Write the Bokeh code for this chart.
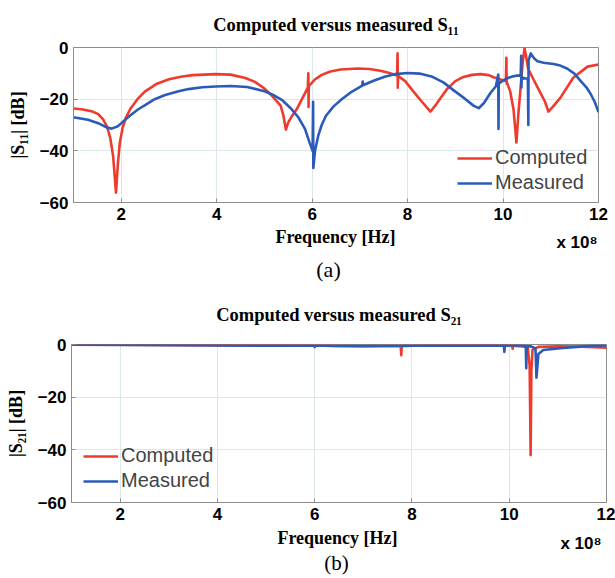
from bokeh.plotting import figure
from bokeh.models import FixedTicker, Label, Legend, LegendItem
from bokeh.layouts import column, row
from bokeh.embed import file_html
from bokeh.resources import INLINE

# ---------------- data (frequency in units of 1e8 Hz, magnitude in dB) ----------------
s11_comp_f = [1.0, 1.2, 1.4, 1.52, 1.62, 1.7, 1.77, 1.83, 1.89, 1.93, 1.97, 2.03, 2.1, 2.2,
              2.34, 2.5, 2.75, 3.0, 3.25, 3.5, 3.98, 4.29, 4.6, 4.8, 4.98, 5.15, 5.34, 5.4,
              5.45, 5.5, 5.58, 5.69, 5.8, 5.91, 5.92, 5.925, 5.93, 6.05, 6.2, 6.38, 6.6,
              6.95, 7.2, 7.43, 7.6, 7.78, 7.79, 7.795, 7.8, 7.95, 8.12, 8.3, 8.48, 8.6, 8.83,
              9.0, 9.17, 9.35, 9.53, 9.7, 9.8, 9.95, 10.06, 10.07, 10.075, 10.08, 10.15,
              10.22, 10.28, 10.32, 10.37, 10.41, 10.45, 10.48, 10.53, 10.62, 10.78, 10.88,
              10.95, 11.05, 11.2, 11.47, 11.77, 12.0]
s11_comp_db = [-23.6, -24.0, -24.8, -25.8, -27.8, -30.5, -35.0, -42.0, -56.2, -45.0, -37.0,
               -31.0, -27.0, -23.5, -20.0, -17.0, -14.0, -12.3, -11.3, -10.7, -10.3, -10.5,
               -11.8, -13.3, -15.6, -18.5, -22.5, -26.5, -31.8, -29.0, -26.5, -23.5, -19.5,
               -15.5, -10.0, -23.0, -15.0, -12.5, -10.6, -9.3, -8.5, -8.1, -8.3, -9.0, -9.8,
               -10.8, -2.2, -15.6, -11.0, -13.0, -17.0, -21.0, -24.8, -22.0, -16.0, -13.0,
               -11.4, -10.6, -10.3, -10.7, -11.5, -12.4, -13.0, -4.0, -14.0, -13.5, -17.0,
               -24.0, -36.8, -26.0, -15.0, -6.2, -0.3, -3.0, -8.5, -11.7, -17.5, -21.0,
               -24.8, -22.8, -19.5, -11.7, -7.4, -6.6]

s11_meas_f = [1.0, 1.3, 1.52, 1.7, 1.8, 1.93, 2.05, 2.18, 2.35, 2.5, 2.7, 2.92, 3.2, 3.41,
              3.7, 3.98, 4.29, 4.64, 4.98, 5.2, 5.38, 5.55, 5.71, 5.85, 5.95, 6.01, 6.02,
              6.025, 6.06, 6.13, 6.2, 6.29, 6.45, 6.62, 6.8, 7.05, 7.06, 7.065, 7.3, 7.52,
              7.75, 8.0, 8.25, 8.5, 8.75, 8.96, 9.2, 9.38, 9.49, 9.6, 9.74, 9.85, 9.9, 9.905,
              9.91, 10.0, 10.1, 10.2, 10.3, 10.37, 10.38, 10.385, 10.39, 10.45, 10.52, 10.53,
              10.535, 10.58, 10.65, 10.72, 10.85, 11.06, 11.2, 11.35, 11.5, 11.62, 11.75,
              11.83, 11.92, 12.0]
s11_meas_db = [-27.0, -28.0, -29.3, -31.0, -31.4, -30.5, -28.5, -26.4, -24.0, -22.3, -20.0,
               -18.4, -16.9, -16.1, -15.4, -15.1, -14.9, -15.3, -16.8, -18.5, -20.5, -23.5,
               -27.0, -31.5, -37.0, -40.0, -21.0, -46.6, -40.0, -34.0, -30.0, -26.4, -22.8,
               -20.0, -17.5, -14.8, -13.2, -14.6, -12.8, -11.3, -10.3, -9.9, -10.1, -11.2,
               -13.5, -16.5, -19.8, -22.5, -23.5, -21.5, -17.5, -15.0, -10.5, -31.5, -14.0,
               -12.8, -11.8, -11.2, -10.8, -11.0, -3.2, -15.5, -11.5, -12.0, -12.0, -30.0,
               -5.0, -2.3, -4.2, -5.3, -5.9, -6.4, -7.0, -8.2, -10.2, -12.8, -15.5, -17.8,
               -21.0, -25.0]

s21_comp_f = [1.0, 2.0, 3.0, 4.0, 5.0, 6.0, 6.5, 7.0, 7.5, 7.77, 7.78, 7.79, 8.0, 8.5, 9.0,
              9.5, 10.0, 10.06, 10.07, 10.08, 10.2, 10.38, 10.42, 10.44, 10.455, 10.48,
              10.6, 11.0, 11.5, 12.0]
s21_comp_db = [-0.1, -0.1, -0.2, -0.3, -0.3, -0.4, -0.6, -0.7, -0.6, -0.6, -4.1, -0.6, -0.5,
               -0.4, -0.3, -0.3, -0.4, -0.4, -1.6, -0.5, -0.6, -1.0, -8.0, -42.0, -10.0,
               -2.0, -0.9, -0.7, -0.8, -1.2]

s21_meas_f = [1.0, 2.0, 3.0, 4.0, 5.0, 5.99, 6.0, 6.01, 7.0, 8.0, 9.0, 9.89, 9.9, 9.91,
              10.2, 10.34, 10.35, 10.36, 10.45, 10.54, 10.56, 10.6, 10.7, 10.9, 11.1, 11.4,
              11.7, 12.0]
s21_meas_db = [-0.1, -0.2, -0.3, -0.4, -0.5, -0.5, -1.0, -0.5, -0.5, -0.5, -0.5, -0.4, -2.8,
               -0.4, -0.4, -0.5, -9.0, -0.6, -0.7, -1.5, -12.6, -3.6, -2.1, -1.7, -1.3, -0.9,
               -0.5, -0.4]

x_ticks = [2, 4, 6, 8, 10, 12]
y_ticks = [-60, -40, -20, 0]
series_names = ["Computed", "Measured"]
titles = ["Computed versus measured S\u2081\u2081", "Computed versus measured S\u2082\u2081"]
y_labels = ["|S\u2081\u2081| [dB]", "|S\u2082\u2081| [dB]"]
x_label = "Frequency [Hz]"
x_scale_label = "x 10\u2078"
captions = ["(a)", "(b)"]

RED = "#ee3b2e"
BLUE = "#2b5bb8"
GREY = "#8c8c8c"
SERIF = "Liberation Serif"
SANS = "Liberation Sans"
W = 615


def lab(p, text, x, y, size, font=SERIF, style="bold", align="left"):
    p.add_layout(Label(x=x, y=y, x_units="screen", y_units="screen", text=text,
                       text_font=font, text_font_size=size, text_font_style=style,
                       text_align=align, text_baseline="middle",
                       text_color="black"))


def text_fig(w, h):
    f = figure(width=w, height=h, x_range=(0, w), y_range=(0, h), output_backend="svg",
               toolbar_location=None, x_axis_type=None, y_axis_type=None,
               min_border=0, min_border_left=0, min_border_right=0,
               min_border_top=0, min_border_bottom=0)
    f.title.visible = False
    f.outline_line_color = None
    f.background_fill_color = "white"
    f.border_fill_color = "white"
    return f


def chart(fc, vc, fm, vm, title, ylab, height, bl, br, bt, bb, leg_loc, t_standoff):
    p = figure(width=W, height=height, x_range=(1, 12), y_range=(-60, 0),
               output_backend="svg", toolbar_location=None,
               min_border_left=bl, min_border_right=br, min_border_top=bt,
               min_border_bottom=bb)
    p.title.text = title
    p.title.align = "center"
    p.title.vertical_align = "middle"
    p.title.text_font = SERIF
    p.title.text_font_style = "bold"
    p.title.text_font_size = "18.5px"
    p.title.text_color = "black"
    p.title.standoff = t_standoff
    p.background_fill_color = "white"
    p.border_fill_color = "white"
    p.outline_line_color = GREY
    p.outline_line_width = 1
    p.xaxis.ticker = FixedTicker(ticks=x_ticks)
    p.yaxis.ticker = FixedTicker(ticks=y_ticks)
    p.grid.grid_line_color = "#dce7ec"
    p.grid.grid_line_width = 1
    for ax in (p.xaxis[0], p.yaxis[0]):
        ax.axis_line_color = GREY
        ax.major_tick_line_color = GREY
        ax.major_tick_in = 4
        ax.major_tick_out = 0
        ax.minor_tick_line_color = None
        ax.major_label_text_font = SANS
        ax.major_label_text_font_style = "bold"
        ax.major_label_text_font_size = "17px"
        ax.major_label_text_color = "black"
        ax.major_label_standoff = 5
    yax = p.yaxis[0]
    yax.axis_label = ylab
    yax.axis_label_text_font = SERIF
    yax.axis_label_text_font_style = "bold"
    yax.axis_label_text_font_size = "18px"
    yax.axis_label_text_color = "black"
    yax.axis_label_standoff = 9

    rc = p.line(fc, vc, line_color=RED, line_width=2.6, line_join="round")
    rm = p.line(fm, vm, line_color=BLUE, line_width=2.6, line_join="round")
    legend = Legend(items=[LegendItem(label=series_names[0], renderers=[rc]),
                           LegendItem(label=series_names[1], renderers=[rm])],
                    location=leg_loc, border_line_alpha=0, background_fill_alpha=0,
                    label_text_font=SANS, label_text_font_size="20px",
                    glyph_width=35, glyph_height=22, label_height=22,
                    label_standoff=3, spacing=2, padding=0, margin=0)
    p.add_layout(legend)
    return p


def below_fig(h, caption, fx, fy, ex, ey, cx, cy, csize):
    f = text_fig(W, h)
    lab(f, x_label, fx, fy, "18px", align="center")
    lab(f, x_scale_label, ex, ey, "17px", font=SANS, align="right")
    lab(f, caption, cx, cy, csize, style="normal", align="center")
    return f


# ---- panel (a) ----  canvas rows: 0-226 chart, 226-282 text
m1 = chart(s11_comp_f, s11_comp_db, s11_meas_f, s11_meas_db, titles[0], y_labels[0],
           47 + 155 + 24, 73, W - 73 - 525, 47, 24, (384, 8), 24)
b1 = below_fig(56, captions[0], 335, 46, 597, 40, 328, 13.5, "22px")

# ---- panel (b) ----  canvas rows: 282-526 chart, 526-578 text
m2 = chart(s21_comp_f, s21_comp_db, s21_meas_f, s21_meas_db, titles[1], y_labels[1],
           62 + 158 + 24, 71, W - 71 - 535, 62, 24, (12, 10), 38)
b2 = below_fig(52, captions[1], 337, 41, 601, 35, 336, 16, "21px")

layout = column(row(m1, spacing=0), b1, row(m2, spacing=0), b2, spacing=0)
open("out.html", "w").write(file_html(layout, INLINE))
